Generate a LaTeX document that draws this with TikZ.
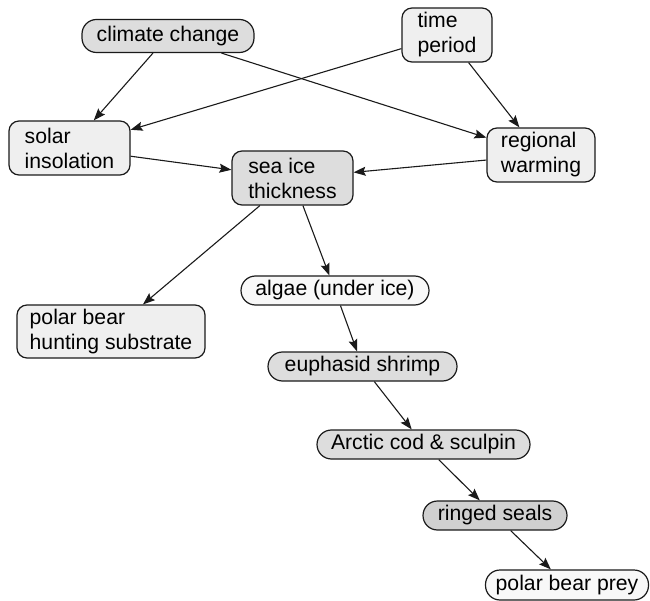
\documentclass[tikz,border=0pt]{standalone}
\usepackage{fontspec}
\setmainfont{Liberation Sans}
\usetikzlibrary{arrows.meta}
\definecolor{fillA}{HTML}{DDDDDD}
\definecolor{fillB}{HTML}{EFEFEF}
\definecolor{fillC}{HTML}{D0D0D0}
\definecolor{fillD}{HTML}{F8F8F8}
\definecolor{edgec}{HTML}{1A1A1A}
\begin{document}
\begin{tikzpicture}[x=1pt,y=-1pt,
  font=\fontsize{21.2}{25}\selectfont,
  base/.style={draw=edgec,line width=1.2pt,inner sep=0pt,anchor=center},
  pill/.style={base,rounded corners=14.5pt,minimum height=29pt},
  rbox/.style={base,rounded corners=10pt,minimum height=54pt,align=left},
  conn/.style={draw=edgec,line width=1.1pt,-{Stealth[length=12pt,width=9pt,inset=2pt]}}]
\useasboundingbox (0,0) rectangle (650,601);
\node[pill,fill=fillA,minimum width=172pt,minimum height=33pt] (cc) at (168,36) {climate change};
\node[rbox,fill=fillB,minimum width=90pt] (tp) at (447,35) {time\\period};
\node[rbox,fill=fillB,minimum width=121pt] (si) at (69.5,148) {solar\\insolation};
\node[rbox,fill=fillB,minimum width=108pt] (rw) at (541,155) {regional\\warming};
\node[rbox,fill=fillA,minimum width=121pt] (sit) at (292.5,178) {sea ice\\thickness};
\node[rbox,fill=fillB,minimum width=188pt,minimum height=53pt] (hs) at (111,331.5) {polar bear\\hunting substrate};
\node[pill,fill=fillD,minimum width=188pt] (al) at (335,290.5) {algae (under ice)};
\node[pill,fill=fillA,minimum width=189pt] (es) at (362.5,366.5) {euphasid shrimp};
\node[pill,fill=fillA,minimum width=213pt] (ac) at (423.5,444.5) {Arctic cod \& sculpin};
\node[pill,fill=fillC,minimum width=144pt] (rs) at (495,515.5) {ringed seals};
\node[pill,fill=fillD,minimum width=163pt,minimum height=30pt] (pp) at (567,585) {polar bear prey};
\draw[conn] (cc) -- (si);
\draw[conn] (cc) -- (rw);
\draw[conn] (tp) -- (si);
\draw[conn] (tp) -- (rw);
\draw[conn] (si) -- (sit);
\draw[conn] (rw) -- (sit);
\draw[conn] (sit) -- (hs);
\draw[conn] (sit) -- (al);
\draw[conn] (al) -- (es);
\draw[conn] (es) -- (ac);
\draw[conn] (ac) -- (rs);
\draw[conn] (rs) -- (pp);
\end{tikzpicture}
\end{document}
